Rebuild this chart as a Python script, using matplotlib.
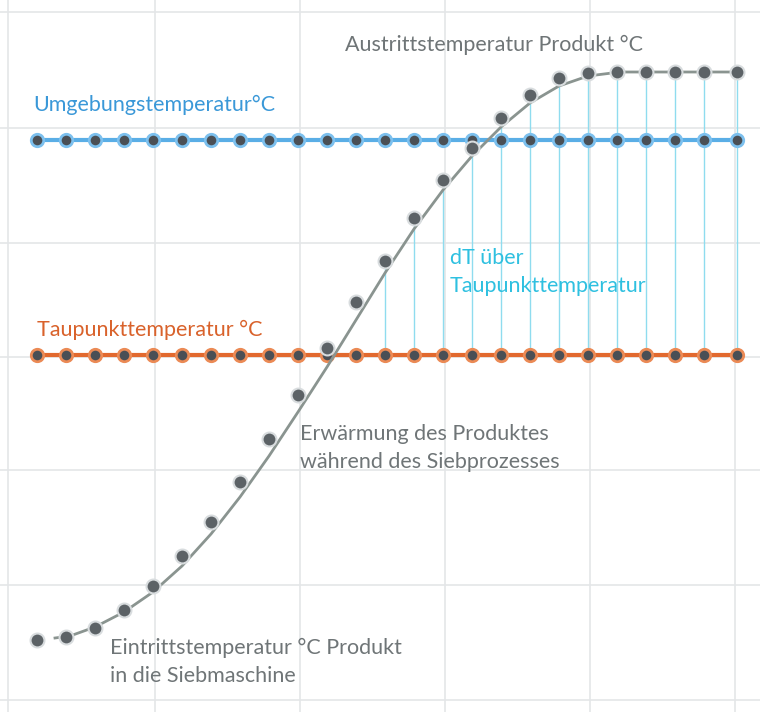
import matplotlib.pyplot as plt
import numpy as np

# positions in picture units (x right, y down)
dot_x = [37, 66, 95, 124, 153, 182, 211, 240, 269, 298, 327, 356, 385,
         414, 443, 472, 501, 530, 559, 588, 617, 646, 675, 704, 737]
product_y = [640, 637, 628, 610, 586, 556, 522, 482, 439, 395, 348, 302, 261,
             218, 180, 148, 118, 95, 78, 73, 72, 72, 72, 72, 72]
curve_x = [55, 70, 95, 124, 153, 182, 211, 240, 269, 298, 327, 356, 385,
           414, 443, 472, 501, 530, 559, 588, 620, 660, 737]
curve_y = [638, 636, 627, 612, 592, 566, 534, 497, 456, 412, 367, 320, 273,
           229, 190, 156, 127, 103, 86, 76, 72, 72, 72]
ambient_y = 140
dewpoint_y = 355
grid_x = [8, 155, 300, 445, 590, 735]
grid_y = [12, 128, 243, 357, 470, 585, 700]

plt.rcParams['font.family'] = ['Lato', 'DejaVu Sans']

fig = plt.figure(figsize=(7.6, 7.12), dpi=100)
ax = fig.add_axes([0, 0, 1, 1])
ax.set_xlim(0, 760)
ax.set_ylim(712, 0)
ax.axis('off')

for gx in grid_x:
    ax.axvline(gx, color='#e4e6e8', lw=1.2, zorder=0)
for gy in grid_y:
    ax.axhline(gy, color='#e4e6e8', lw=1.2, zorder=0)

# dT lines
for x, y in zip(dot_x, product_y):
    if x >= 385:
        ax.plot([x, x], [dewpoint_y, y], color='#8fdcef', lw=1, zorder=1)

ax.plot([dot_x[0], dot_x[-1]], [ambient_y] * 2, color='#5aaee6', lw=3, zorder=2)
ax.plot([dot_x[0], dot_x[-1]], [dewpoint_y] * 2, color='#e2692e', lw=3, zorder=2)
ax.scatter(dot_x, [ambient_y] * len(dot_x), s=80, color='#4a4f55',
           edgecolor='#7cc0ee', linewidth=2, zorder=3)
ax.scatter(dot_x, [dewpoint_y] * len(dot_x), s=80, color='#4a4f55',
           edgecolor='#eb8a55', linewidth=2, zorder=3)

ax.plot(curve_x, curve_y, color='#8a9490', lw=2, zorder=4)
ax.scatter(dot_x, product_y, s=100, color='#5c6266', edgecolor='#d8dcde',
           linewidth=1.5, zorder=5)

fs = 15.5
grey = '#6f7577'
ax.text(345, 45, 'Austrittstemperatur Produkt °C', color=grey, fontsize=fs, va='center')
ax.text(33, 105, 'Umgebungstemperatur°C', color='#3a98d8', fontsize=fs, va='center')
ax.text(37, 330, 'Taupunkttemperatur °C', color='#d9622b', fontsize=fs, va='center')
ax.text(450, 272, 'dT über\nTaupunkttemperatur', color='#2ec0e0', fontsize=fs,
        va='center', linespacing=1.45)
ax.text(300, 448, 'Erwärmung des Produktes\nwährend des Siebprozesses', color=grey,
        fontsize=fs, va='center', linespacing=1.45)
ax.text(110, 662, 'Eintrittstemperatur °C Produkt\nin die Siebmaschine', color=grey,
        fontsize=fs, va='center', linespacing=1.45)

fig.savefig('out.png', dpi=100)
